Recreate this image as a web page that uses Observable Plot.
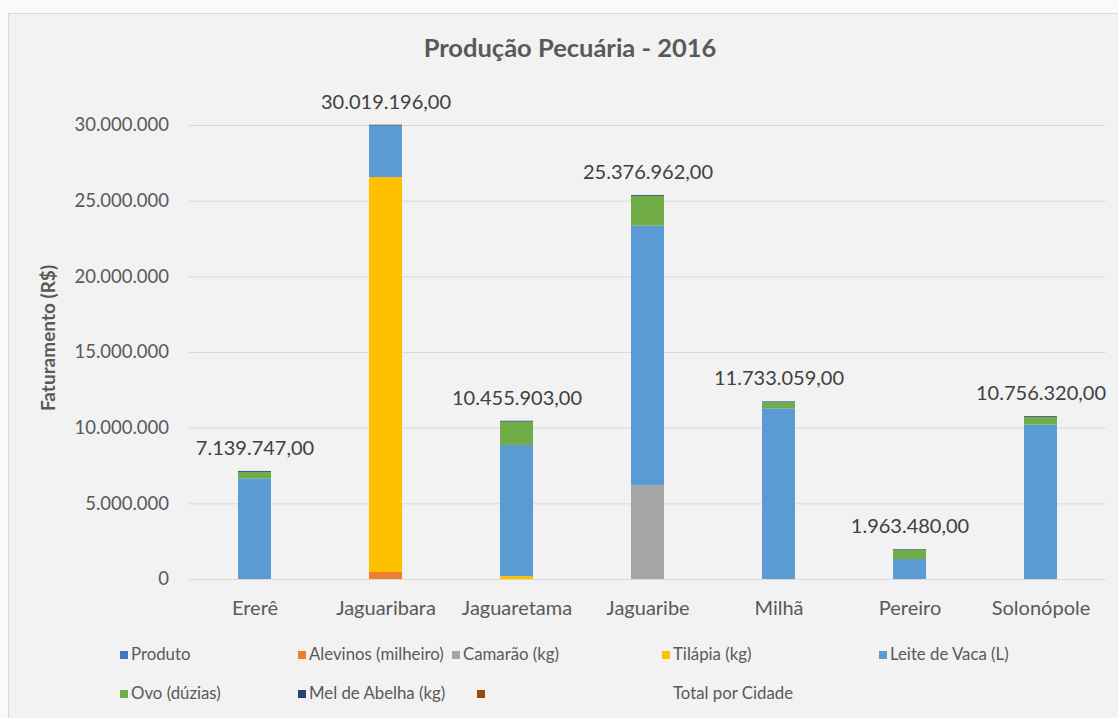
<!DOCTYPE html>
<html>
<head>
<meta charset="utf-8">
<script src="https://cdn.jsdelivr.net/npm/d3@7"></script>
<script src="https://cdn.jsdelivr.net/npm/@observablehq/plot@0.6"></script>
<style>
  html, body { margin: 0; padding: 0; background: #fafafa; }
  body { width: 1118px; height: 718px; position: relative; overflow: hidden; font-family: Lato, "Open Sans", sans-serif; }
  #frame { position: absolute; left: 8px; top: 13px; width: 1120px; height: 720px; background: #f2f2f2; border: 1px solid #d9d9d9; box-sizing: border-box; }
  #title { position: absolute; left: 8px; top: 32px; width: 1124px; text-align: center; font-size: 25.5px; font-weight: bold; color: #595959; }
  #ylabel { position: absolute; left: 47px; top: 338px; transform: translate(-50%, -50%) rotate(-90deg); font-size: 19px; font-weight: bold; color: #595959; white-space: nowrap; }
  #chart { position: absolute; left: 0; top: 0; }
  .lg { position: absolute; font-size: 16.8px; color: #595959; white-space: nowrap; line-height: 20px; }
  .sw { display: inline-block; width: 8px; height: 8px; margin-right: 3px; vertical-align: 1px; }
</style>
</head>
<body>
<div id="frame"></div>
<div id="title">Produção Pecuária - 2016</div>
<div id="ylabel">Faturamento (R$)</div>
<div id="chart"></div>
<div id="legend"></div>
<script>
// ---- data ----
const cities = ["Ererê", "Jaguaribara", "Jaguaretama", "Jaguaribe", "Milhã", "Pereiro", "Solonópole"];
const series = ["Alevinos (milheiro)", "Camarão (kg)", "Tilápia (kg)", "Leite de Vaca (L)", "Ovo (dúzias)", "Mel de Abelha (kg)"];
const alevinos = [0, 460000, 0, 0, 0, 0, 0];
const camarao  = [0, 0, 0, 6200000, 0, 0, 0];
const tilapia  = [0, 26100000, 200000, 0, 0, 0, 0];
const leite    = [6650000, 3380000, 8660000, 17150000, 11280000, 1320000, 10200000];
const ovo      = [430000, 30000, 1540000, 1970000, 400000, 600000, 500000];
const mel      = [59747, 49196, 55903, 56962, 53059, 43480, 56320];
const totals   = [7139747, 30019196, 10455903, 25376962, 11733059, 1963480, 10756320];
const yTicks   = [0, 5000000, 10000000, 15000000, 20000000, 25000000, 30000000];
const seriesColors = ["#ED7D31", "#A5A5A5", "#FFC000", "#5B9BD5", "#70AD47", "#264478"];
const legendLabels = ["Produto", "Alevinos (milheiro)", "Camarão (kg)", "Tilápia (kg)", "Leite de Vaca (L)", "Ovo (dúzias)", "Mel de Abelha (kg)", "", "Total por Cidade"];
const legendColors = ["#4472C4", "#ED7D31", "#A5A5A5", "#FFC000", "#5B9BD5", "#70AD47", "#264478", "#9E480E", null];

// ---- build table ----
const seriesValues = [alevinos, camarao, tilapia, leite, ovo, mel];
const rows = [];
series.forEach((s, si) => cities.forEach((c, ci) => rows.push({city: c, series: s, value: seriesValues[si][ci]})));
const totalRows = cities.map((c, i) => ({city: c, total: totals[i]}));

const loc = d3.formatLocale({decimal: ",", thousands: ".", grouping: [3], currency: ["R$", ""]});
const fmtTick = loc.format(",.0f");
const fmtTotal = loc.format(",.2f");

const chart = Plot.plot({
  width: 1118,
  height: 640,
  marginLeft: 188.5,
  marginRight: 12.5,
  marginTop: 125,
  marginBottom: 61,
  style: {background: "transparent", fontFamily: "Lato, 'Open Sans', sans-serif", fontSize: "17px", color: "#595959"},
  x: {type: "band", domain: cities, paddingInner: 0.75, paddingOuter: 0.375, axis: null},
  y: {domain: [0, 30000000], axis: null},
  color: {domain: series, range: seriesColors},
  marks: [
    Plot.ruleY(yTicks, {stroke: "#d9d9d9", strokeWidth: 1}),
    Plot.axisY(yTicks, {tickSize: 0, tickPadding: 20, tickFormat: fmtTick, label: null, fontSize: 18.5, fill: "#595959"}),
    Plot.axisX({tickSize: 0, tickPadding: 21, label: null, fontSize: 20, fill: "#595959"}),
    Plot.barY(rows, {x: "city", y: "value", fill: "series"}),
    Plot.text(totalRows, {x: "city", y: "total", text: d => fmtTotal(d.total), dy: -23, lineAnchor: "middle", fontSize: 20, fill: "#404040"})
  ]
});
document.getElementById("chart").appendChild(chart);

// ---- legend ----
const legendPos = [[120, 644], [298, 644], [452, 644], [662, 644], [879, 644], [120, 683], [298, 683], [477, 683], [662, 683]];
const lg = document.getElementById("legend");
legendLabels.forEach((t, i) => {
  const d = document.createElement("div");
  d.className = "lg";
  d.style.left = legendPos[i][0] + "px";
  d.style.top = legendPos[i][1] + "px";
  const sw = document.createElement("span");
  sw.className = "sw";
  sw.style.background = legendColors[i] || "transparent";
  d.appendChild(sw);
  d.appendChild(document.createTextNode(t));
  lg.appendChild(d);
});
</script>
</body>
</html>
